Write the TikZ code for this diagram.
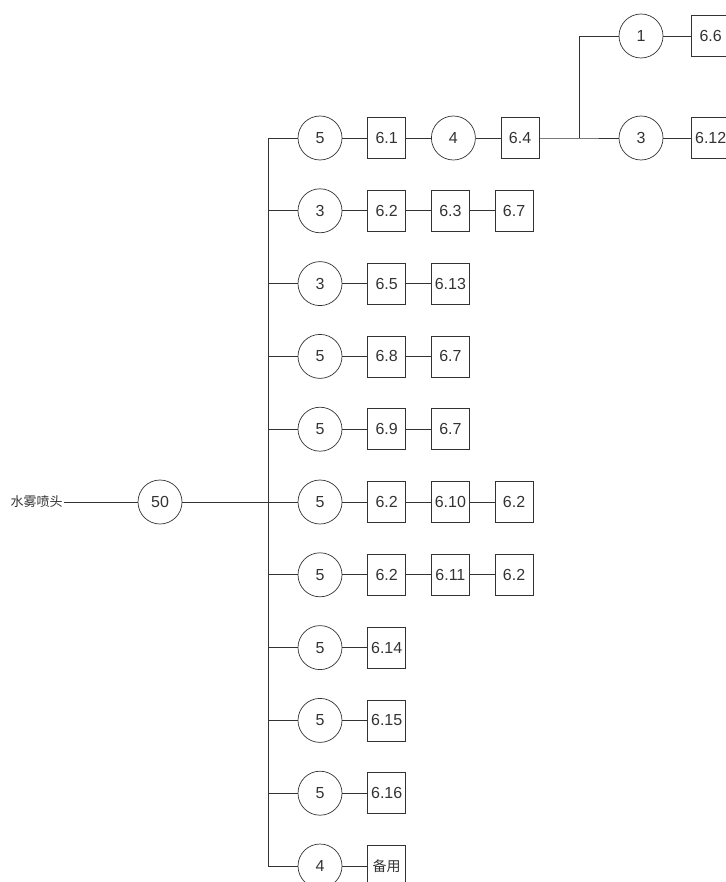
\documentclass[tikz,border=0pt]{standalone}
\usepackage{fontspec}
\setmainfont{Liberation Sans}
\newfontfamily\cjk{Noto Sans CJK SC}
\usetikzlibrary{positioning}

\begin{document}
\begin{tikzpicture}[x=1pt,y=-1pt,node distance=25pt,line width=0.7pt,draw=black!80,
  every node/.style={font=\fontsize{16}{18}\selectfont,text=black!80},
  rnd/.style={draw,circle,minimum size=44pt,inner sep=0pt},
  box/.style={draw,minimum width=38pt,minimum height=41pt,inner sep=0pt}]
  \useasboundingbox (0,0) rectangle (725,882);

  % inlet
  \node[anchor=east,inner sep=1pt,font=\cjk\fontsize{13}{15}\selectfont] (head) at (64,502) {水雾喷头};
  \node[rnd] (c50) at (160,502) {50};
  \coordinate (bt) at (268,138); \coordinate (bb) at (268,866);
  \draw (head) -- (c50); \draw (c50) -- (bt |- c50); \draw (bt) -- (bb);

  % row 1 with branch
  \node[rnd] (r1) at (320,138) {5};
  \node[box,right=of r1] (r1a) {6.1};
  \node[rnd,right=of r1a] (r1k) {4};
  \node[box,right=of r1k] (r1b) {6.4};
  \coordinate (jn) at (579,138);
  \node[rnd] (t1) at (641,36) {1};
  \node[box,right=28pt of t1] (t1a) {6.6};
  \node[rnd] (t3) at (641,138) {3};
  \node[box,right=28pt of t3] (t3a) {6.12};
  \draw (bt) -- (r1); \draw (r1) -- (r1a); \draw (r1a) -- (r1k); \draw (r1k) -- (r1b);
  \draw (r1b) -- (jn) -- (t3); \draw (jn) |- (t1); \draw (t1) -- (t1a); \draw (t3) -- (t3a);

  % row 2
  \node[rnd] (r2) at (320,210.8) {3};
  \node[box,right=of r2] (r2a) {6.2};
  \node[box,right=of r2a] (r2b) {6.3};
  \node[box,right=of r2b] (r2c) {6.7};
  \draw (bt |- r2) -- (r2); \draw (r2) -- (r2a); \draw (r2a) -- (r2b); \draw (r2b) -- (r2c);

  % row 3
  \node[rnd] (r3) at (320,283.6) {3};
  \node[box,right=of r3] (r3a) {6.5};
  \node[box,right=of r3a] (r3b) {6.13};
  \draw (bt |- r3) -- (r3); \draw (r3) -- (r3a); \draw (r3a) -- (r3b);

  % row 4
  \node[rnd] (r4) at (320,356.4) {5};
  \node[box,right=of r4] (r4a) {6.8};
  \node[box,right=of r4a] (r4b) {6.7};
  \draw (bt |- r4) -- (r4); \draw (r4) -- (r4a); \draw (r4a) -- (r4b);

  % row 5
  \node[rnd] (r5) at (320,429.2) {5};
  \node[box,right=of r5] (r5a) {6.9};
  \node[box,right=of r5a] (r5b) {6.7};
  \draw (bt |- r5) -- (r5); \draw (r5) -- (r5a); \draw (r5a) -- (r5b);

  % row 6
  \node[rnd] (r6) at (320,502) {5};
  \node[box,right=of r6] (r6a) {6.2};
  \node[box,right=of r6a] (r6b) {6.10};
  \node[box,right=of r6b] (r6c) {6.2};
  \draw (bt |- r6) -- (r6); \draw (r6) -- (r6a); \draw (r6a) -- (r6b); \draw (r6b) -- (r6c);

  % row 7
  \node[rnd] (r7) at (320,574.8) {5};
  \node[box,right=of r7] (r7a) {6.2};
  \node[box,right=of r7a] (r7b) {6.11};
  \node[box,right=of r7b] (r7c) {6.2};
  \draw (bt |- r7) -- (r7); \draw (r7) -- (r7a); \draw (r7a) -- (r7b); \draw (r7b) -- (r7c);

  % rows 8-11
  \node[rnd] (r8) at (320,647.6) {5};
  \node[box,right=of r8] (r8a) {6.14};
  \node[rnd] (r9) at (320,720.4) {5};
  \node[box,right=of r9] (r9a) {6.15};
  \node[rnd] (r10) at (320,793.2) {5};
  \node[box,right=of r10] (r10a) {6.16};
  \node[rnd] (r11) at (320,866) {4};
  \node[box,right=of r11,font=\cjk\fontsize{14}{16}\selectfont] (r11a) {备用};
  \draw (bt |- r8) -- (r8); \draw (r8) -- (r8a);
  \draw (bt |- r9) -- (r9); \draw (r9) -- (r9a);
  \draw (bt |- r10) -- (r10); \draw (r10) -- (r10a);
  \draw (bb) -- (r11); \draw (r11) -- (r11a);
\end{tikzpicture}
\end{document}
